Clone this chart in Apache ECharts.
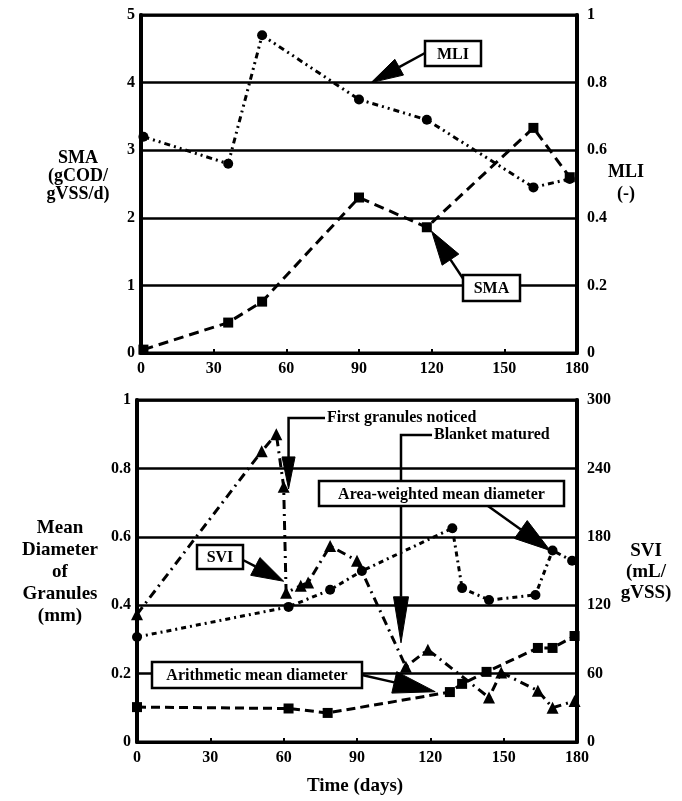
<!DOCTYPE html>
<html><head><meta charset="utf-8">
<script src="https://cdn.jsdelivr.net/npm/echarts@6/dist/echarts.min.js"></script>
<style>html,body{margin:0;padding:0;background:#fff}#c{width:682px;height:801px}</style>
</head><body><div id="c"></div>
<script>
// ---- data ----
const topDays   = [1, 36, 50, 90, 118, 162, 177];
const smaValues = [0.05, 0.45, 0.76, 2.3, 1.86, 3.33, 2.6];      // gCOD/gVSS/d (left)
const mliValues = [0.64, 0.56, 0.94, 0.75, 0.69, 0.49, 0.515];   // MLI (right)

const sviDays   = [0, 51, 57, 60, 61, 67, 70, 79, 90, 110, 119, 144, 149, 164, 170, 179];
const sviValues = [112, 255, 270, 224, 131, 137, 140, 172, 159, 66, 81, 39, 61, 45, 30, 36];

const awDays    = [0, 62, 79, 92, 129, 133, 144, 163, 170, 178];
const awValues  = [0.307, 0.395, 0.445, 0.50, 0.625, 0.45, 0.415, 0.43, 0.56, 0.53];

const amDays    = [0, 62, 78, 128, 133, 143, 164, 170, 179];
const amValues  = [0.102, 0.098, 0.085, 0.146, 0.17, 0.205, 0.275, 0.275, 0.31];

const dayTicks  = [0, 30, 60, 90, 120, 150, 180];

// ---- chart ----
const FONT = '"Liberation Serif","Times New Roman",serif';
const zip = (a, b) => a.map((v, i) => [v, b[i]]);
const chart = echarts.init(document.getElementById('c'), null, {renderer: 'canvas'});

const lab = {fontFamily: FONT, fontSize: 16, fontWeight: 'bold', color: '#000'};
function xAxis(gi) {
  return {gridIndex: gi, type: 'value', min: dayTicks[0], max: dayTicks[dayTicks.length - 1],
    interval: dayTicks[1] - dayTicks[0],
    axisLine: {show: true, lineStyle: {color: '#000', width: 3}},
    axisTick: {show: true, inside: true, length: 4, lineStyle: {color: '#000', width: 2}},
    axisLabel: Object.assign({margin: 8}, lab), splitLine: {show: false}};
}
function yAxis(gi, pos, max, interval, split) {
  return {gridIndex: gi, type: 'value', position: pos, min: 0, max: max, interval: interval,
    axisLine: {show: true, lineStyle: {color: '#000', width: 4}},
    axisTick: {show: false},
    axisLabel: Object.assign({margin: pos === 'left' ? 6 : 10}, lab),
    splitLine: {show: split, lineStyle: {color: '#000', width: 2.5}}};
}
const blk = {color: '#000'};
function series(name, xi, yi, data, symbol, size, dash) {
  return {name, type: 'line', xAxisIndex: xi, yAxisIndex: yi, data, symbol, symbolSize: size,
    showSymbol: true, itemStyle: blk, z: 5,
    lineStyle: {color: '#000', width: 3, type: dash}};
}

chart.setOption({
  animation: false,
  backgroundColor: '#fff',
  grid: [
    {left: 141, top: 15, width: 436, height: 338, show: true, borderColor: '#000', borderWidth: 3},
    {left: 137, top: 400, width: 440, height: 342, show: true, borderColor: '#000', borderWidth: 3}
  ],
  xAxis: [xAxis(0), xAxis(1)],
  yAxis: [
    yAxis(0, 'left', 5, 1, true),
    yAxis(0, 'right', 1, 0.2, false),
    yAxis(1, 'left', 1, 0.2, true),
    yAxis(1, 'right', 300, 60, false)
  ],
  series: [
    series('SMA', 0, 0, zip(topDays, smaValues), 'rect', 10, [10, 6]),
    series('MLI', 0, 1, zip(topDays, mliValues), 'circle', 10, [6, 4, 2, 4, 2, 4]),
    series('SVI', 1, 3, zip(sviDays, sviValues), 'triangle', 12, [9, 5, 2, 5]),
    series('Area-weighted mean diameter', 1, 2, zip(awDays, awValues), 'circle', 10, [5, 4, 2, 4]),
    series('Arithmetic mean diameter', 1, 2, zip(amDays, amValues), 'rect', 10, [9, 5])
  ]
});

// ---- annotations ----
const P = (xi, yi, v) => chart.convertToPixel({xAxisIndex: xi, yAxisIndex: yi}, v);
const G = [];
const Z = 100;
function text(t, x, y, size, opts) {
  G.push({type: 'text', z: Z + 2, style: Object.assign({text: t, x, y,
    font: 'bold ' + size + 'px ' + FONT, fill: '#000',
    textAlign: 'center', textVerticalAlign: 'middle', align: 'center', verticalAlign: 'middle'}, opts || {})});
}
function box(t, x, y, w, h, size) {
  G.push({type: 'rect', z: Z + 1, shape: {x, y, width: w, height: h},
    style: {fill: '#fff', stroke: '#000', lineWidth: 2.5}});
  text(t, x + w / 2, y + h / 2 + 1, size);
}
function arrow(pts, tip, L, W) {
  const last = pts[pts.length - 1];
  const dx = tip[0] - last[0], dy = tip[1] - last[1];
  const d = Math.hypot(dx, dy), ux = dx / d, uy = dy / d;
  const bx = tip[0] - ux * L, by = tip[1] - uy * L;
  const nx = -uy * W / 2, ny = ux * W / 2;
  G.push({type: 'polyline', z: Z, shape: {points: pts.concat([[bx, by]])},
    style: {stroke: '#000', lineWidth: 2.5, fill: null}});
  G.push({type: 'polygon', z: Z, shape: {points: [tip, [bx + nx, by + ny], [bx - nx, by - ny]]},
    style: {fill: '#000', stroke: '#000', lineWidth: 1}});
}

// top chart
box('MLI', 425, 41, 56, 25, 16);
arrow([[425, 53]], P(0, 0, [95, 4]), 32, 18);
box('SMA', 463, 275, 57, 26, 16);
arrow([[466, 283]], P(0, 0, [120, 1.8]), 34, 20);

// bottom chart
text('First granules noticed', 327, 418, 16, {textAlign: 'left', align: 'left'});
const fg = P(1, 2, [62, 0.74]);
arrow([[325, 418], [fg[0], 418]], fg, 32, 13);
text('Blanket matured', 434, 435, 16, {textAlign: 'left', align: 'left'});
const bm = P(1, 2, [108, 0.29]);
arrow([[432, 435], [bm[0], 435]], bm, 46, 15);
box('Area-weighted mean diameter', 319, 481, 245, 25, 16);
arrow([[488, 506]], P(1, 2, [169, 0.56]), 36, 22);
box('SVI', 197, 545, 46, 24, 16);
arrow([[243, 560]], P(1, 2, [60, 0.47]), 32, 20);
box('Arithmetic mean diameter', 152, 662, 210, 26, 16);
arrow([[362, 675]], P(1, 2, [122, 0.147]), 42, 22);

// axis titles
text('SMA\n(gCOD/\ngVSS/d)', 78, 176, 18, {lineHeight: 18});
text('MLI\n(-)', 626, 183, 18, {lineHeight: 22});
text('Mean\nDiameter\nof\nGranules\n(mm)', 60, 572, 19, {lineHeight: 22});
text('SVI\n(mL/\ngVSS)', 646, 572, 19, {lineHeight: 21});
text('Time (days)', 355, 786, 19);

chart.setOption({graphic: G});
</script>
</body></html>
